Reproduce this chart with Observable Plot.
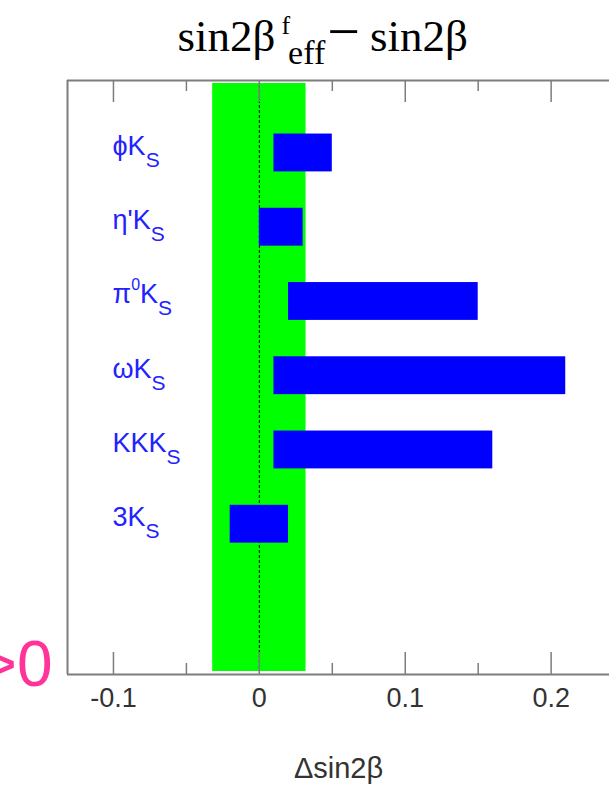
<!DOCTYPE html>
<html>
<head>
<meta charset="utf-8">
<script src="https://cdn.jsdelivr.net/npm/d3@7"></script>
<script src="https://cdn.jsdelivr.net/npm/@observablehq/plot@0.6"></script>
<style>
  html, body { margin: 0; padding: 0; background: #ffffff; }
  #chart svg { display: block; }
</style>
</head>
<body>
<div id="chart"></div>
<script>
// ---- data ----
const channels = ["ϕK_{S}", "η'K_{S}", "π^{0}K_{S}", "ωK_{S}", "KKK_{S}", "3K_{S}"];
const deltaLow  = [0.01, 0.00, 0.02, 0.01, 0.01, -0.02];
const deltaHigh = [0.05, 0.03, 0.15, 0.21, 0.16,  0.02];
const worldAvgBand = [-0.032, 0.032];
const majorTicks = [-0.1, 0, 0.1, 0.2];
const minorTicks = [-0.05, 0.05, 0.15];
const tickLabels = ["-0.1", "0", "0.1", "0.2"];
const titleSegments = ["sin2β", "f", "eff", "−", "sin2β"];
const xAxisLabel = "Δsin2β";
const cornerText = ">0";

// ---- layout ----
const W = 609, H = 789, mt = 80, mb = 115, ml = 67, mr = 0;
const frameH = H - mt - mb;
const xDom = [-0.1315, 0.24];
const yDom = [0.024, 8.024];
const gray = "#7d7d7d";
const sans = "Liberation Sans, Arial, Helvetica, sans-serif";
const serif = "Liberation Serif, Times New Roman, serif";
const titleKey = titleSegments.join("");

const rows = channels.map((c, i) => ({channel: c, pos: i + 1, lo: deltaLow[i], hi: deltaHigh[i]}));

const plot = Plot.plot({
  width: W, height: H,
  marginTop: mt, marginBottom: mb, marginLeft: ml, marginRight: mr,
  style: {background: "#ffffff", overflow: "hidden"},
  x: {domain: xDom, axis: null},
  y: {domain: yDom, reverse: true, axis: null},
  marks: [
    Plot.rect([worldAvgBand], {x1: d => d[0], x2: d => d[1], fill: "#00ff00", insetTop: 3, insetBottom: 3}),
    Plot.ruleX([0], {stroke: "#000", strokeWidth: 1, strokeDasharray: "3,2"}),
    Plot.rect(rows, {x1: "lo", x2: "hi", y1: d => d.pos - 0.255, y2: d => d.pos + 0.255, fill: "#0000ff"}),
    // frame (top, bottom, left)
    Plot.ruleY([yDom[0], yDom[1]], {stroke: gray, strokeWidth: 2}),
    Plot.ruleX([xDom[0]], {stroke: gray, strokeWidth: 2}),
    // ticks: top and bottom, inward
    Plot.ruleX(majorTicks, {stroke: gray, strokeWidth: 1.5, insetBottom: frameH - 22}),
    Plot.ruleX(majorTicks, {stroke: gray, strokeWidth: 1.5, insetTop: frameH - 22}),
    Plot.ruleX(minorTicks, {stroke: gray, strokeWidth: 1.5, insetBottom: frameH - 11}),
    Plot.ruleX(minorTicks, {stroke: gray, strokeWidth: 1.5, insetTop: frameH - 11}),
    // tick labels
    Plot.text(majorTicks, {x: d => d, text: (d, i) => tickLabels[i], frameAnchor: "bottom",
      lineAnchor: "top", dy: 13, fontSize: 27, fontFamily: sans, fill: "#333"}),
    // axis title
    Plot.text([xAxisLabel], {text: d => d, frameAnchor: "bottom", lineAnchor: "bottom", dy: 103,
      fontSize: 29, fontFamily: sans, fill: "#333"}),
    // channel labels
    Plot.text(rows, {y: "pos", text: "channel", frameAnchor: "left", dx: 45, textAnchor: "start",
      lineAnchor: "bottom", dy: 2, fontSize: 27, fontFamily: sans, fill: "#2222ff"}),
    // title
    Plot.text([titleKey], {text: d => d, frameAnchor: "top-left", textAnchor: "start",
      lineAnchor: "bottom", dx: 110, dy: -30, fontSize: 45, fontFamily: serif, fill: "#000"}),
    // corner slide text
    Plot.text([cornerText], {text: d => d, frameAnchor: "bottom-left", textAnchor: "end", lineAnchor: "bottom",
      dx: -15, dy: 11, fontSize: 64, fontFamily: sans, fill: "#ff3399"})
  ]
});
document.getElementById("chart").appendChild(plot);

// ---- rich text (sub/superscripts) ----
const svgns = "http://www.w3.org/2000/svg";
function setRich(textEl, parts) {
  while (textEl.firstChild) textEl.removeChild(textEl.firstChild);
  let cur = 0;
  for (const p of parts) {
    const ts = document.createElementNS(svgns, "tspan");
    const target = p.shift || 0;
    ts.setAttribute("dy", target - cur);
    cur = target;
    if (p.dx) ts.setAttribute("dx", p.dx);
    if (p.size) ts.setAttribute("font-size", p.size);
    ts.textContent = p.text;
    textEl.appendChild(ts);
  }
}
function parseMarkup(str) {
  const re = /([\^_])\{([^}]*)\}/g;
  const out = [];
  let last = 0, m;
  while ((m = re.exec(str))) {
    if (m.index > last) out.push({text: str.slice(last, m.index), kind: "n"});
    out.push({text: m[2], kind: m[1] === "^" ? "sup" : "sub"});
    last = re.lastIndex;
  }
  if (last < str.length) out.push({text: str.slice(last), kind: "n"});
  return out;
}
const labelStyle = {n: {}, sup: {size: 16, shift: -13}, sub: {size: 21, shift: 12}};
plot.querySelectorAll("text").forEach(el => {
  const t = el.textContent;
  if (channels.includes(t)) {
    setRich(el, parseMarkup(t).map(p => ({text: p.text, ...labelStyle[p.kind]})));
  } else if (t === titleKey) {
    setRich(el, [
      {text: titleSegments[0]},
      {text: titleSegments[1], size: 26, shift: -17, dx: 6},
      {text: titleSegments[2], size: 34, shift: 13, dx: -2},
      {text: titleSegments[3], size: 58, dx: 2},
      {text: titleSegments[4], dx: 10}
    ]);
  }
});
</script>
</body>
</html>
